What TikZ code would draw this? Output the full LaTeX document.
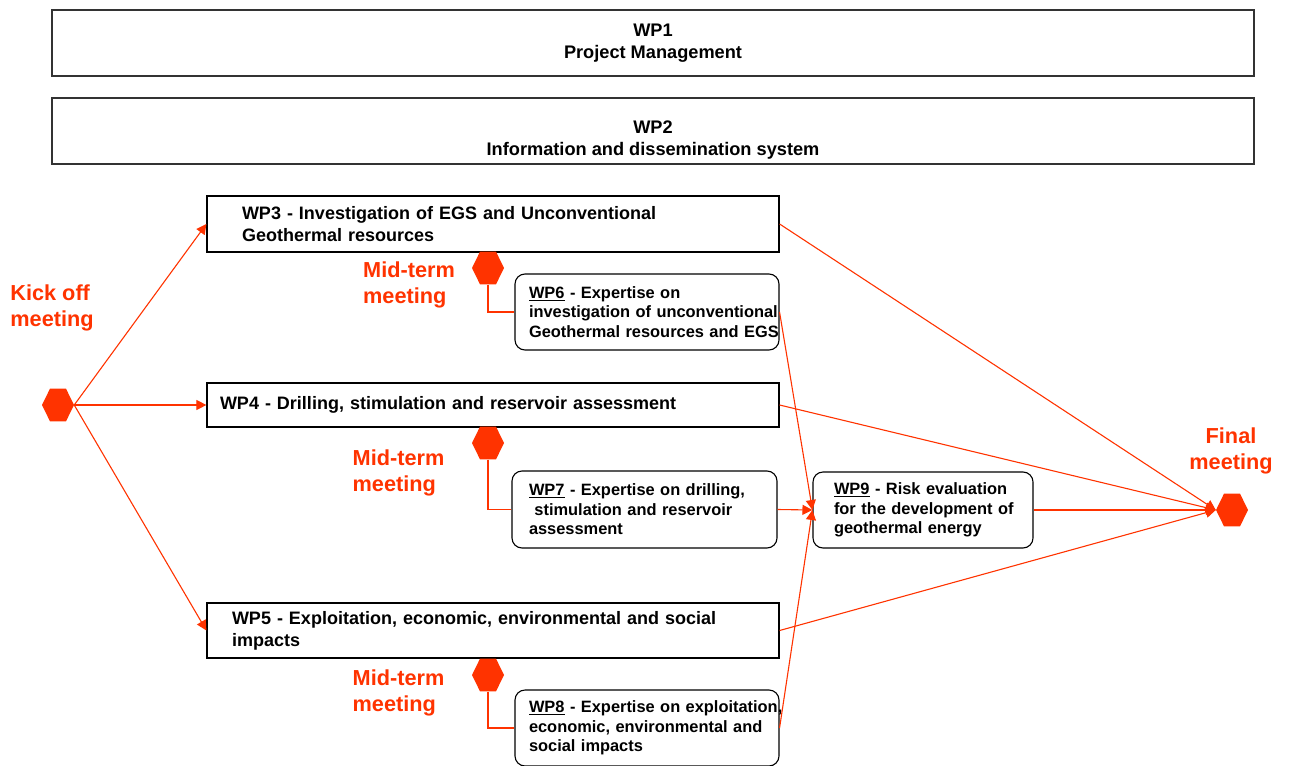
\documentclass[tikz,border=0pt]{standalone}
\usepackage{fontspec}
\setmainfont{Liberation Sans}
\usetikzlibrary{shapes.geometric,arrows.meta,positioning}
\definecolor{meetred}{RGB}{255,51,0}
\begin{document}
\begin{tikzpicture}[x=1pt,y=-1pt,
    wpbar/.style={draw=black!80,line width=1.4pt,minimum width=1202pt,minimum height=66pt,align=center,font=\bfseries\fontsize{18.2}{22}\selectfont},
    wpbox/.style={draw,line width=1.2pt,minimum width=572pt,align=left,font=\bfseries\fontsize{18}{22}\selectfont},
    wpsub/.style={draw,line width=1.1pt,rounded corners=10pt,minimum height=76pt,align=left,font=\bfseries\fontsize{16.4}{19.5}\selectfont},
    meethex/.style={regular polygon,regular polygon sides=6,fill=meetred,inner sep=0pt,minimum size=32pt,yscale=1.18,transform shape},
    meettext/.style={text=meetred,align=left,font=\bfseries\fontsize{21.7}{26}\selectfont},
    flow/.style={draw=meetred,line width=1.1pt,-{Triangle[length=10pt,width=10pt]}},
    link/.style={draw=meetred,line width=1.1pt}]
  \useasboundingbox (0,0) rectangle (1289,765);

  % top bars
  \node[wpbar] (wp1) at (653,43) {WP1\\Project Management};
  \node[wpbar,text height=53pt,inner ysep=0pt] (wp2) at (653,131) {WP2\\Information and dissemination system};

  % main work packages
  \node[wpbox,minimum height=56pt,text width=502pt,inner xsep=35pt] (wp3) at (493,224)
    {WP3 - Investigation of EGS and Unconventional\\Geothermal resources};
  \node[wpbox,minimum height=44pt,text width=546pt,inner xsep=13pt] (wp4) at (493,405)
    {WP4 - Drilling, stimulation and reservoir assessment};
  \node[wpbox,minimum height=55pt,text width=522pt,inner xsep=25pt] (wp5) at (493,630.5)
    {WP5 - Exploitation, economic, environmental and social\\impacts};

  % expertise boxes
  \node[wpsub,text width=236pt,inner xsep=14pt] (wp6) at (647,312)
    {\underline{WP6} - Expertise on\\\mbox{investigation of unconventional}\\\mbox{Geothermal resources and EGS}};
  \node[wpsub,text width=231pt,inner xsep=17pt,minimum height=77pt] (wp7) at (644.5,509.5)
    {\underline{WP7} - Expertise on drilling,\\~stimulation and reservoir\\assessment};
  \node[wpsub,text width=236pt,inner xsep=14pt] (wp8) at (647,728)
    {\mbox{\underline{WP8} - Expertise on exploitation,}\\economic, environmental and\\social impacts};
  \node[wpsub,text width=178pt,inner xsep=21pt] (wp9) at (923,510)
    {\underline{WP9} - Risk evaluation\\\mbox{for the development of}\\geothermal energy};

  % meetings
  \node[meethex] (kick) at (58,405) {};
  \node[meettext] (kicklbl) at (52,308) {Kick off\\meeting};
  \node[meethex] (mid1) at (488,268) {};
  \node[meettext] (mid1lbl) at (409,285) {Mid-term\\meeting};
  \node[meethex] (mid2) at (488,443) {};
  \node[meettext] (mid2lbl) at (398.5,473) {Mid-term\\meeting};
  \node[meethex] (mid3) at (488,675) {};
  \node[meettext] (mid3lbl) at (398.5,692.5) {Mid-term\\meeting};
  \node[meethex] (final) at (1232,510) {};
  \node[meettext,align=center] (finallbl) at (1231,451) {Final\\meeting};

  % connectors
  \draw[flow] (kick.east) -- (wp3.west);
  \draw[flow] (kick.east) -- (wp4.west);
  \draw[flow] (kick.east) -- (wp5.west);
  \draw[link] (mid1.south) |- (wp6.west);
  \draw[link] (mid2.south) |- (wp7.west);
  \draw[link] (mid3.south) |- (wp8.west);
  \draw[flow] (wp6.east) -- (wp9.west);
  \draw[flow] (wp7.east) -- (wp9.west);
  \draw[flow] (wp8.east) -- (wp9.west);
  \draw[flow] (wp3.east) -- (final.west);
  \draw[flow] (wp4.east) -- (final.west);
  \draw[flow] (wp5.east) -- (final.west);
  \draw[flow] (wp9.east) -- (final.west);
\end{tikzpicture}
\end{document}
